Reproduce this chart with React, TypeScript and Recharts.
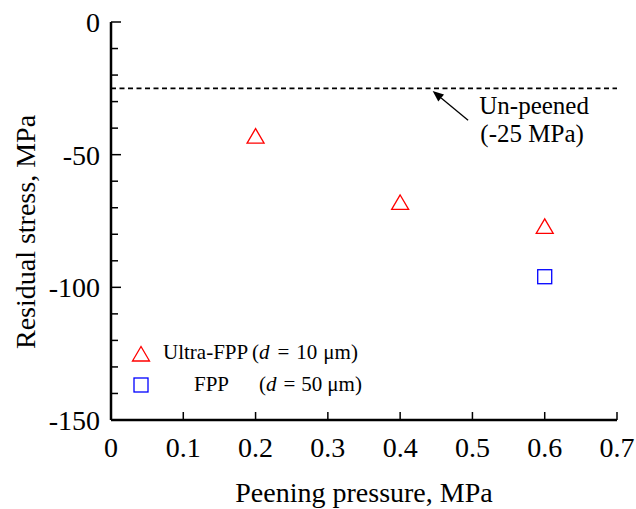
import React from 'react';
import {
  ScatterChart, Scatter, XAxis, YAxis, ReferenceLine,
} from 'recharts';

const ultraPressure = [0.2, 0.4, 0.6];
const ultraStress = [-43, -68, -77];
const fppPressure = [0.6];
const fppStress = [-96];
const unpeenedStress = -25;
const xTicks = [0, 0.1, 0.2, 0.3, 0.4, 0.5, 0.6, 0.7];
const yTicks = [-150, -140, -130, -120, -110, -100, -90, -80, -70, -60, -50, -40, -30, -20, -10, 0];
const yLabelTicks = [-150, -100, -50, 0];
const arrowTail = { x: 0.494, y: -37 };
const arrowHead = { x: 0.445, y: -26 };

const ultraData = ultraPressure.map((x, i) => ({ x, y: ultraStress[i] }));
const fppData = fppPressure.map((x, i) => ({ x, y: fppStress[i] }));

const FONT = '"Liberation Serif", "Times New Roman", serif';

const Triangle = (props: any) => {
  const { cx, cy } = props;
  if (cx == null || cy == null) return null;
  return (
    <polygon
      points={`${cx},${cy - 7.5} ${cx - 8.5},${cy + 7} ${cx + 8.5},${cy + 7}`}
      fill="none"
      stroke="#ff0000"
      strokeWidth={1.3}
    />
  );
};

const Square = (props: any) => {
  const { cx, cy } = props;
  if (cx == null || cy == null) return null;
  return <rect x={cx - 7} y={cy - 7} width={14} height={14} fill="none" stroke="#0000ff" strokeWidth={1.3} />;
};

const YTick = (props: any) => {
  const { x, y, payload } = props;
  const v = payload.value;
  const major = yLabelTicks.includes(v);
  const ax = x + 11;
  return (
    <g>
      <line x1={ax} x2={ax + (major ? 10 : 7)} y1={y} y2={y} stroke="#000" strokeWidth={1.5} />
      {major && (
        <text x={x} y={y + 10} textAnchor="end" fontFamily={FONT} fontSize={28} fill="#000">
          {v}
        </text>
      )}
    </g>
  );
};

const XTick = (props: any) => {
  const { x, y, payload } = props;
  return (
    <g>
      <line x1={x} x2={x} y1={y} y2={y - 8} stroke="#000" strokeWidth={1.5} />
      <text x={x} y={y + 37} textAnchor="middle" fontFamily={FONT} fontSize={28} fill="#000">
        {payload.value}
      </text>
    </g>
  );
};

const YTitle = (props: any) => {
  const { viewBox } = props;
  if (!viewBox) return null;
  const cx = viewBox.x + 25;
  const cy = viewBox.y + viewBox.height / 2 + 11;
  return (
    <text
      x={cx}
      y={cy}
      transform={`rotate(-90, ${cx}, ${cy})`}
      textAnchor="middle"
      dominantBaseline="central"
      fontFamily={FONT}
      fontSize={28}
      fill="#000"
    >
      Residual stress, MPa
    </text>
  );
};

const ArrowShape = (props: any) => {
  const { x1, y1, x2, y2 } = props;
  if (x1 == null) return null;
  const ang = Math.atan2(y2 - y1, x2 - x1);
  const L = 11;
  const W = 4.5;
  const bx = x2 - L * Math.cos(ang);
  const by = y2 - L * Math.sin(ang);
  const px = -Math.sin(ang) * W;
  const py = Math.cos(ang) * W;
  return (
    <g>
      <line x1={x1} y1={y1} x2={bx} y2={by} stroke="#000" strokeWidth={1.3} />
      <polygon points={`${x2},${y2} ${bx + px},${by + py} ${bx - px},${by - py}`} fill="#000" />
      <text x={x1 + 66} y={y1 - 6} textAnchor="middle" fontFamily={FONT} fontSize={25} fill="#000">
        Un-peened
      </text>
      <text x={x1 + 64} y={y1 + 22} textAnchor="middle" fontFamily={FONT} fontSize={25} fill="#000">
        (-25 MPa)
      </text>
    </g>
  );
};

const LegendBox = () => (
  <svg width={260} height={70} style={{ position: 'absolute', left: 125, top: 332, overflow: 'visible' }}>
    <polygon points="16,14.5 7.5,29 24.5,29" fill="none" stroke="#ff0000" strokeWidth={1.3} />
    <text x={38} y={27} fontFamily={FONT} fontSize={21} fill="#000">
      Ultra-FPP
    </text>
    <text x={127} y={27} fontFamily={FONT} fontSize={21} fill="#000">
      (<tspan fontStyle="italic">d</tspan>
      <tspan dx={8}>=</tspan>
      <tspan dx={7}>10</tspan>
      <tspan dx={6}>μm)</tspan>
    </text>
    <rect x={9} y={46} width={14} height={14} fill="none" stroke="#0000ff" strokeWidth={1.3} />
    <text x={69} y={59} fontFamily={FONT} fontSize={21} fill="#000">
      FPP
    </text>
    <text x={134} y={59} fontFamily={FONT} fontSize={21} fill="#000">
      (<tspan fontStyle="italic">d</tspan>
      <tspan dx={7}>=</tspan>
      <tspan dx={6}>50</tspan>
      <tspan dx={5}>μm)</tspan>
    </text>
  </svg>
);

export default function App() {
  return (
    <div style={{ position: 'absolute', left: 0, top: 0, width: 636, height: 509, background: '#fff' }}>
      <ScatterChart width={636} height={509} margin={{ top: 22, right: 19, bottom: 0, left: 0 }}>
        <XAxis
          type="number"
          dataKey="x"
          xAxisId="b"
          domain={[0, 0.7]}
          ticks={xTicks}
          interval={0}
          height={89}
          tickSize={0}
          tickMargin={0}
          tick={<XTick />}
          axisLine={{ stroke: '#000', strokeWidth: 2.5 }}
          tickLine={false}
          allowDataOverflow
          label={{ value: 'Peening pressure, MPa', position: 'insideBottom', offset: 7, fontFamily: FONT, fontSize: 28, fill: '#000' }}
        />
        <XAxis type="number" xAxisId="t" orientation="top" domain={[0, 0.7]} height={0} tick={false} tickLine={false} axisLine={{ stroke: '#000', strokeWidth: 2 }} />
        <YAxis
          type="number"
          dataKey="y"
          yAxisId="l"
          domain={[-150, 0]}
          ticks={yTicks}
          interval={0}
          width={111}
          tickSize={0}
          tickMargin={11}
          tick={<YTick />}
          axisLine={{ stroke: '#000', strokeWidth: 2.5 }}
          tickLine={false}
          allowDataOverflow
          label={{ content: (p: any) => <YTitle {...p} /> }}
        />
        <YAxis type="number" yAxisId="r" orientation="right" domain={[-150, 0]} width={0} tick={false} tickLine={false} axisLine={{ stroke: '#000', strokeWidth: 2 }} />
        <ReferenceLine xAxisId="b" yAxisId="l" y={unpeenedStress} stroke="#000" strokeWidth={1.8} strokeDasharray="5 3.5" />
        <ReferenceLine
          xAxisId="b"
          yAxisId="l"
          segment={[arrowTail, arrowHead]}
          shape={(p: any) => <ArrowShape {...p} />}
        />
        <Scatter xAxisId="b" yAxisId="l" name="Ultra-FPP" data={ultraData} shape={<Triangle />} isAnimationActive={false} />
        <Scatter xAxisId="b" yAxisId="l" name="FPP" data={fppData} shape={<Square />} isAnimationActive={false} />
      </ScatterChart>
      <LegendBox />
    </div>
  );
}
